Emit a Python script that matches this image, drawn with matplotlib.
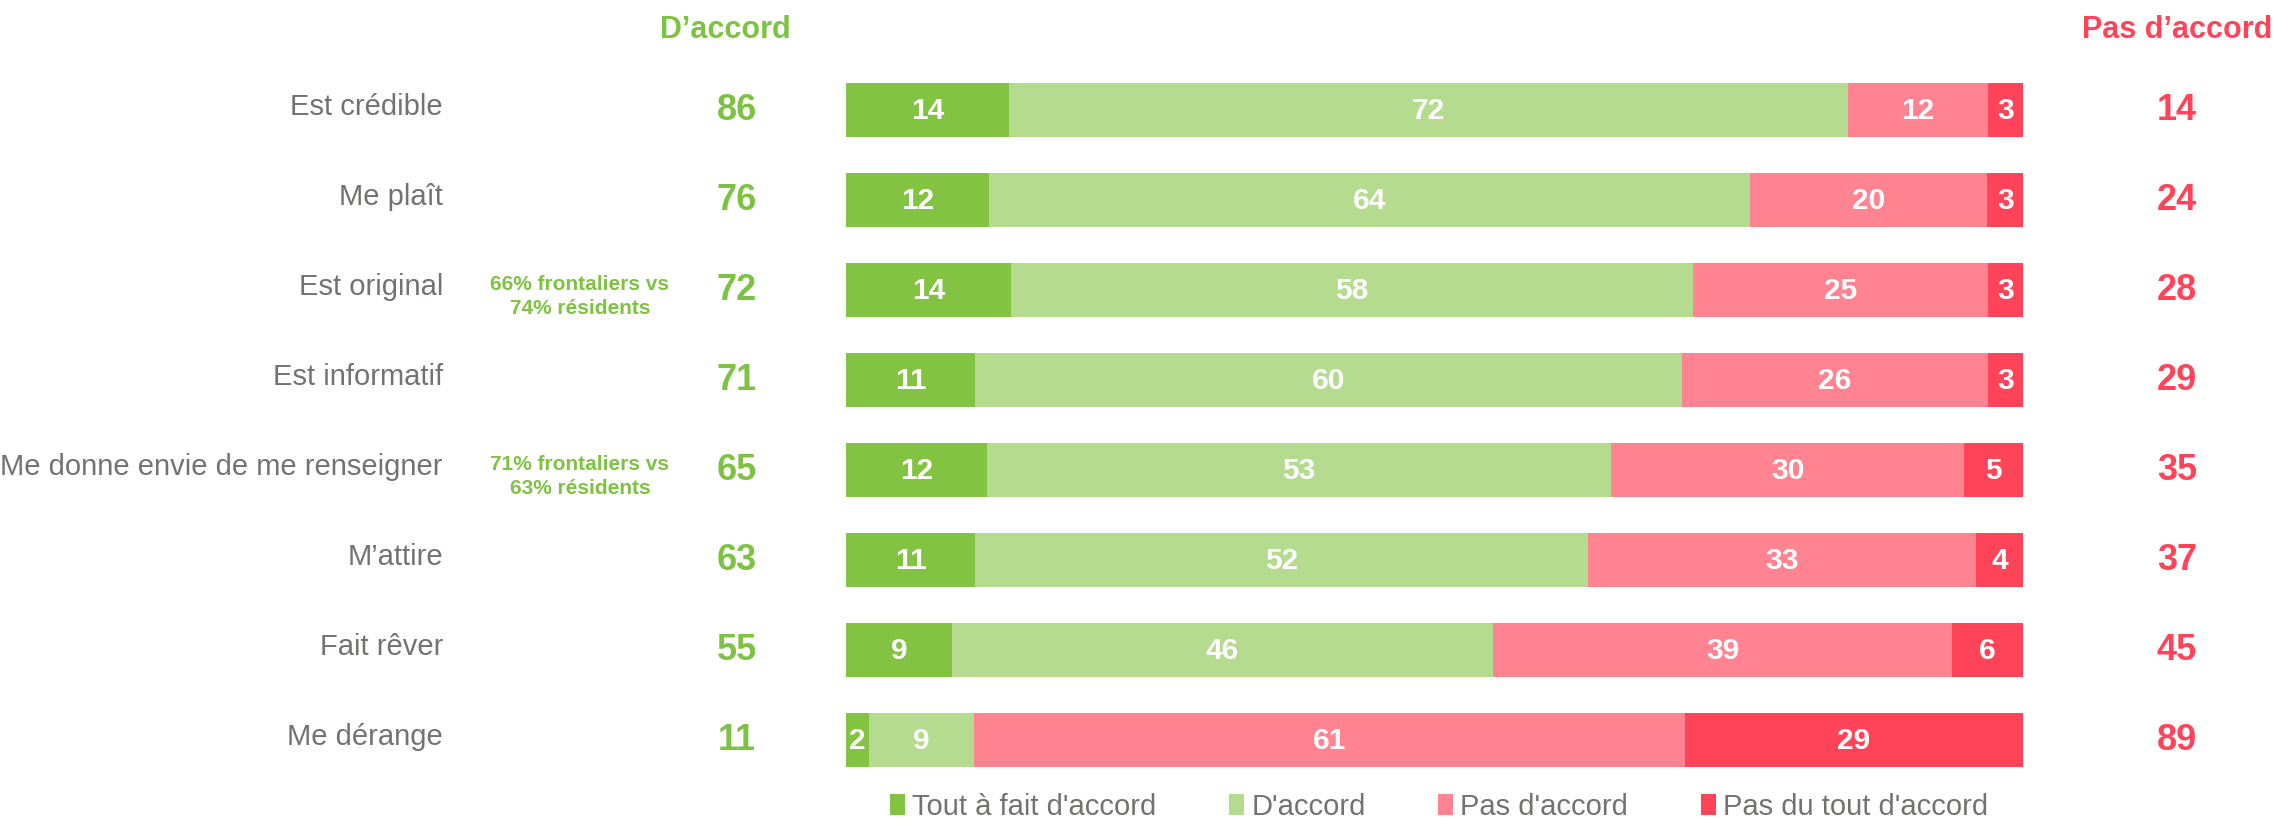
import numpy as np
import matplotlib.pyplot as plt
from matplotlib.patches import Patch

plt.rcParams['font.family'] = ['Liberation Sans', 'DejaVu Sans']

# data
categories = ["Est crédible", "Me plaît", "Est original", "Est informatif",
              "Me donne envie de me renseigner", "M’attire", "Fait rêver", "Me dérange"]
tout_accord = [14, 12, 14, 11, 12, 11, 9, 2]
accord = [72, 64, 58, 60, 53, 52, 46, 9]
pas_accord = [12, 20, 25, 26, 30, 33, 39, 61]
pas_du_tout = [3, 3, 3, 3, 5, 4, 6, 29]
total_accord = [86, 76, 72, 71, 65, 63, 55, 11]
total_pas = [14, 24, 28, 29, 35, 37, 45, 89]
notes = ["", "", "66% frontaliers vs\n74% résidents", "",
         "71% frontaliers vs\n63% résidents", "", "", ""]
series_names = ["Tout à fait d'accord", "D'accord", "Pas d'accord", "Pas du tout d'accord"]

colors = ["#82C341", "#B5DB8E", "#FF8390", "#FF4459"]
green_txt = "#7DC242"
red_txt = "#FF4459"
gray_txt = "#767171"

W, H = 2279, 819
fig = plt.figure(figsize=(W / 100, H / 100), dpi=100)
# axes spans exactly the bar area (x 846..2023 px, rows 109..740 px)
ax = fig.add_axes([846 / W, 34 / H, 1177 / W, 720 / H])

series = np.array([tout_accord, accord, pas_accord, pas_du_tout], dtype=float)
widths = series / series.sum(axis=0) * 100   # 100% stacked
y = np.arange(len(categories))
left = np.zeros(len(categories))
for i in range(4):
    ax.barh(y, widths[i], left=left, height=0.59, color=colors[i], linewidth=0)
    for j in range(len(categories)):
        ax.text(left[j] + widths[i][j] / 2, y[j] + 0.01, str(int(series[i][j])),
                ha='center', va='center', color='white', fontsize=21.5, fontweight='bold')
    left += widths[i]

ax.set_xlim(0, 100)
ax.set_ylim(len(categories) - 0.5, -0.5)
ax.axis('off')

px = 100 / 1177  # data units per pixel horizontally
for j, cat in enumerate(categories):
    ax.text(-(846 - 443) * px, y[j] - 0.03, cat, ha='right', va='center',
            color=gray_txt, fontsize=21, clip_on=False)
    ax.text(-(846 - 737) * px, y[j], str(total_accord[j]), ha='center', va='center',
            color=green_txt, fontsize=26, fontweight='bold', clip_on=False)
    ax.text(100 + (2177 - 2023) * px, y[j], str(total_pas[j]), ha='center', va='center',
            color=red_txt, fontsize=26, fontweight='bold', clip_on=False)
    if notes[j]:
        ax.text(-(846 - 580) * px, y[j] + 0.07, notes[j], ha='center', va='center',
                color=green_txt, fontsize=15, fontweight='bold', linespacing=1.3,
                clip_on=False)

ax.text(-(846 - 725) * px, -0.89, "D’accord", ha='center', va='center',
        color=green_txt, fontsize=22, fontweight='bold', clip_on=False)
ax.text(100 + (2177 - 2023) * px, -0.89, "Pas d’accord", ha='center', va='center',
        color=red_txt, fontsize=22, fontweight='bold', clip_on=False)

handles = [Patch(facecolor=c, edgecolor='none') for c in colors]
leg = ax.legend(handles, series_names, loc='center', bbox_to_anchor=(0.504, -0.03),
                ncol=4, frameon=False, fontsize=21, handlelength=0.5, handleheight=0.7,
                handletextpad=0.25, columnspacing=2.5, borderaxespad=0)
for t in leg.get_texts():
    t.set_color(gray_txt)

fig.savefig("out.png", dpi=100)
